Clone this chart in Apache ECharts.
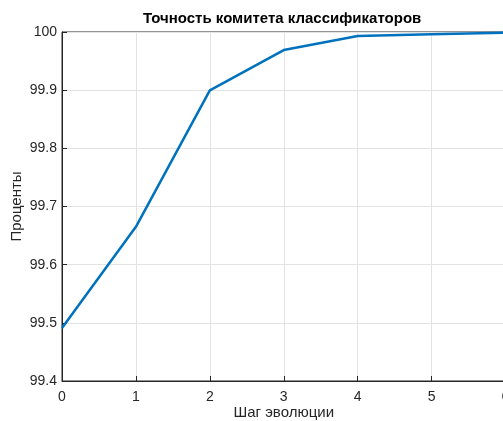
<!DOCTYPE html>
<html><head><meta charset="utf-8">
<script src="https://cdn.jsdelivr.net/npm/echarts@6/dist/echarts.min.js"></script>
<style>html,body{margin:0;padding:0;background:#fff}#c{width:503px;height:421px}</style>
</head><body><div id="c"></div>
<script>
const steps = [0, 1, 2, 3, 4, 5, 6];
const accuracy = [99.491, 99.665, 99.8997, 99.969, 99.993, 99.996, 99.999];
const yTicks = [99.4, 99.5, 99.6, 99.7, 99.8, 99.9, 100];
const titleText = 'Точность комитета классификаторов';
const xName = 'Шаг эволюции';
const yName = 'Проценты';

const chart = echarts.init(document.getElementById('c'), null, {renderer: 'canvas'});
const font = 'Liberation Sans, Arial, Helvetica, sans-serif';
chart.setOption({
  animation: false,
  title: {text: titleText, left: 143, top: 11, padding: 0,
    textStyle: {fontFamily: font, fontSize: 15, fontWeight: 'bold', color: '#000'}},
  grid: {left: 62, top: 32, width: 443.5, height: 349, show: true, borderColor: '#262626', borderWidth: 1,
    backgroundColor: '#fff', containLabel: false, outerBoundsMode: 'none'},
  xAxis: {type: 'value', min: 0, max: 6, interval: 1,
    name: xName, nameLocation: 'middle', nameGap: 24, nameMoveOverlap: false,
    nameTextStyle: {fontFamily: font, fontSize: 15, color: '#262626'},
    axisLine: {show: true, lineStyle: {color: '#262626', width: 1}},
    axisTick: {show: true, inside: true, length: 5, lineStyle: {color: '#262626'}},
    axisLabel: {fontFamily: font, fontSize: 14, color: '#262626', margin: 9},
    splitLine: {show: true, lineStyle: {color: '#e3e3e3', width: 1}}},
  yAxis: {type: 'value', min: 99.4, max: 100, interval: 0.1,
    name: yName, nameLocation: 'middle', nameGap: 38, nameRotate: 90, nameMoveOverlap: false,
    nameTextStyle: {fontFamily: font, fontSize: 15, color: '#262626'},
    axisLine: {show: true, lineStyle: {color: '#262626', width: 1}},
    axisTick: {show: true, inside: true, length: 5, lineStyle: {color: '#262626'}},
    axisLabel: {fontFamily: font, fontSize: 14, color: '#262626', margin: 5,
      formatter: v => { const t = yTicks.find(x => Math.abs(x - v) < 1e-6); return t === undefined ? '' : String(t); }},
    splitLine: {show: true, lineStyle: {color: '#e3e3e3', width: 1}}},
  series: [{type: 'line', data: steps.map((s, i) => [s, accuracy[i]]), showSymbol: false,
    lineStyle: {color: '#0072BD', width: 2.5}, clip: false}]
});
</script></body></html>
